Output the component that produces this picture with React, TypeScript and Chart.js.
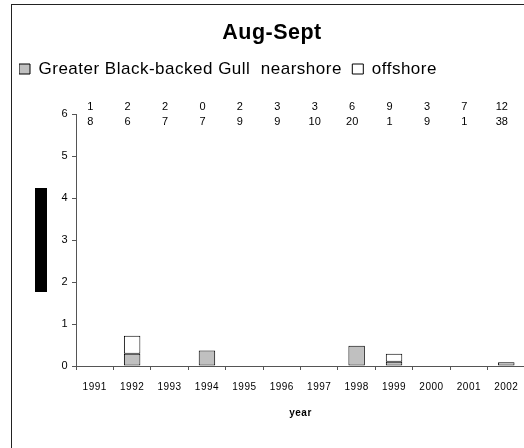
import React, { useEffect, useRef } from "react";
import { Chart, registerables } from "chart.js";

Chart.register(...registerables);

const years = ["1991", "1992", "1993", "1994", "1995", "1996", "1997", "1998", "1999", "2000", "2001", "2002"];
const nearshore = [0, 0.29, 0, 0.37, 0, 0, 0, 0.48, 0.1, 0, 0, 0.09];
const offshore = [0, 0.43, 0, 0, 0, 0, 0, 0, 0.19, 0, 0, 0];
const countsTop = ["1", "2", "2", "0", "2", "3", "3", "6", "9", "3", "7", "12"];
const countsBottom = ["8", "6", "7", "7", "9", "9", "10", "20", "1", "9", "1", "38"];
const yMin = 0;
const yMax = 6;
const yStep = 1;

const FONT = "'Liberation Sans', Arial, sans-serif";

const spacingPlugin = {
  id: "spacing",
  beforeLayout(chart: any) {
    chart.ctx.letterSpacing = "0.5px";
  },
  beforeDraw(chart: any) {
    chart.ctx.letterSpacing = "0.5px";
  },
};

const decorPlugin = {
  id: "decor",
  afterDraw(chart: any) {
    const { ctx, chartArea, scales } = chart;
    const xs = scales.x;
    ctx.save();
    // frame
    ctx.strokeStyle = "#222";
    ctx.lineWidth = 1;
    ctx.strokeRect(11.5, 4.5, 1000, 1000);
    // obscured axis title block
    const midY = (chartArea.top + chartArea.bottom) / 2;
    ctx.fillStyle = "#000";
    ctx.fillRect(chartArea.left - 41, midY - 52, 12, 104);
    // counts above plot
    ctx.font = `11px ${FONT}`;
    ctx.fillStyle = "#000";
    ctx.textAlign = "center";
    ctx.textBaseline = "middle";
    ctx.letterSpacing = "0px";
    years.forEach((_, i) => {
      const x = xs.getPixelForValue(i) - 4.5;
      ctx.fillText(countsTop[i], x, chartArea.top - 7);
      ctx.fillText(countsBottom[i], x, chartArea.top + 8);
    });
    ctx.restore();
  },
};

export default function App() {
  const ref = useRef<HTMLCanvasElement | null>(null);

  useEffect(() => {
    if (!ref.current) return;
    Chart.defaults.font.family = FONT;
    Chart.defaults.color = "#000";
    const toBar = (arr: number[]) => arr.map((v) => (v === 0 ? null : v));
    const chart = new Chart(ref.current, {
      type: "bar",
      data: {
        labels: years,
        datasets: [
          {
            label: "Greater Black-backed Gull  nearshore  ",
            data: toBar(nearshore) as any,
            backgroundColor: "#c0c0c0",
            borderColor: "#000",
            borderWidth: 1,
            borderSkipped: false,
            categoryPercentage: 1,
            barPercentage: 0.44,
          },
          {
            label: "offshore",
            data: toBar(offshore) as any,
            backgroundColor: "#ffffff",
            borderColor: "#000",
            borderWidth: 1,
            borderSkipped: false,
            categoryPercentage: 1,
            barPercentage: 0.44,
          },
        ],
      },
      options: {
        animation: false,
        responsive: false,
        layout: { padding: { left: 19, right: 5, top: 0, bottom: 0 } },
        plugins: {
          title: {
            display: true,
            text: "Aug-Sept",
            font: { size: 21.5, weight: "bold" },
            color: "#000",
            padding: { top: 20, bottom: 14.7 },
          },
          subtitle: {
            display: true,
            text: " ",
            font: { size: 1 },
            padding: { top: 0, bottom: 25.3 },
            weight: 500,
          } as any,
          legend: {
            display: true,
            position: "top",
            align: "start",
            labels: {
              boxWidth: 11,
              boxHeight: 10,
              padding: 0,
              color: "#000",
              font: { size: 17 },
            },
          },
          tooltip: { enabled: false },
        },
        scales: {
          x: {
            stacked: true,
            offset: true,
            grid: {
              display: true,
              offset: true,
              drawOnChartArea: false,
              drawTicks: true,
              tickLength: 4,
              color: "#555",
            },
            border: { display: true, color: "#555" },
            ticks: { font: { size: 10 }, color: "#000", padding: 11, maxRotation: 0 },
            title: {
              display: true,
              text: "year",
              font: { size: 10, weight: "bold" },
              color: "#000",
              padding: { top: 0, bottom: 29 },
            },
            afterFit(scale: any) {
              scale.height = 82;
            },
          },
          y: {
            stacked: true,
            min: yMin,
            max: yMax,
            grid: {
              display: true,
              drawOnChartArea: false,
              drawTicks: true,
              tickLength: 4,
              color: "#555",
            },
            border: { display: true, color: "#555" },
            ticks: { stepSize: yStep, font: { size: 11 }, color: "#000", padding: 4 },
            afterFit(scale: any) {
              scale.width = 57;
            },
          },
        },
      },
      plugins: [spacingPlugin, decorPlugin],
    });
    return () => chart.destroy();
  }, []);

  return (
    <div style={{ position: "absolute", left: 0, top: 0, width: 524, height: 448, overflow: "hidden", background: "#fff" }}>
      <canvas ref={ref} width={530} height={448} style={{ display: "block" }} />
    </div>
  );
}
